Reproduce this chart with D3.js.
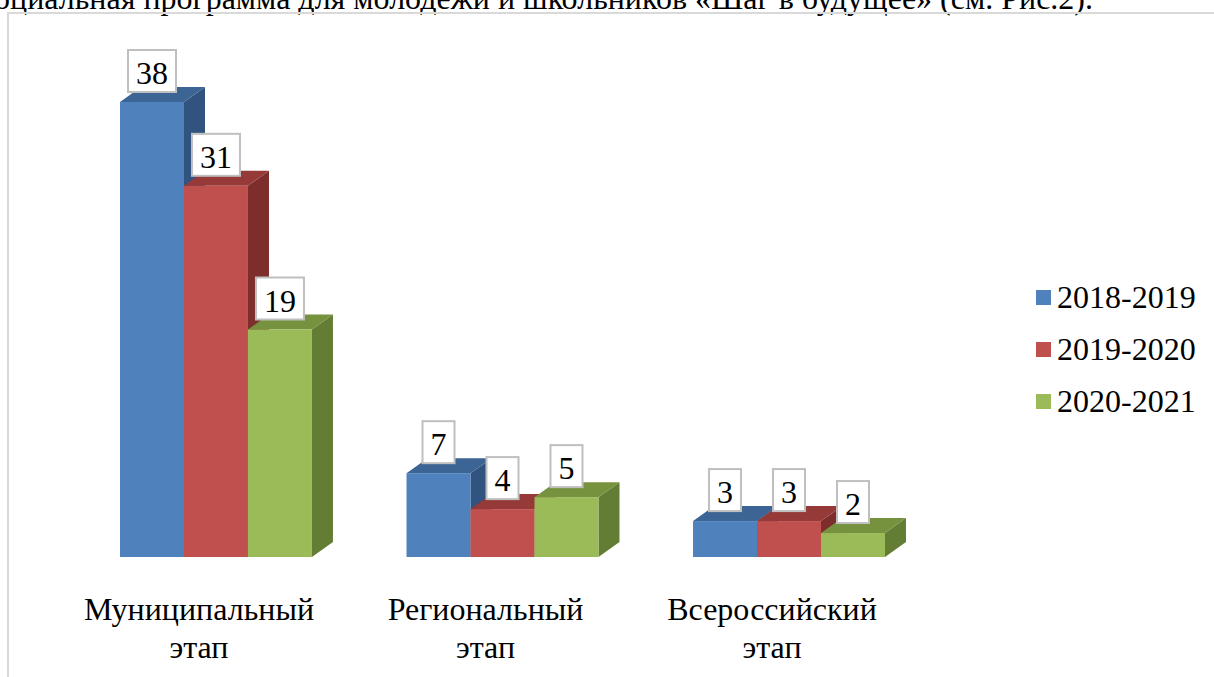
<!DOCTYPE html>
<html>
<head>
<meta charset="utf-8">
<script src="https://cdn.jsdelivr.net/npm/d3@7"></script>
</head>
<body style="margin:0;background:#fff">
<div id="chart"></div>
<script>
// data
const categories = ["Муниципальный этап", "Региональный этап", "Всероссийский этап"];
const seriesNames = ["2018-2019", "2019-2020", "2020-2021"];
const values2018 = [38, 7, 3];
const values2019 = [31, 4, 3];
const values2020 = [19, 5, 2];
const seriesValues = [values2018, values2019, values2020];

const W = 1214, H = 677;
const FONT = "'Liberation Serif', 'Times New Roman', serif";
const svg = d3.select("#chart").append("svg")
  .attr("width", W)
  .attr("height", H)
  .style("display", "block");

// colours: front, top, side
const front = ["#4f81bd", "#c0504d", "#9bbb59"];
const topC = ["#3c6596", "#953a38", "#77923f"];
const side = ["#315380", "#7d2e2c", "#647d34"];

// heading text from the page above the chart
svg.append("text")
  .attr("x", 1093)
  .attr("y", 9)
  .attr("text-anchor", "end")
  .style("font-family", FONT)
  .style("font-size", "32px")
  .attr("fill", "#000")
  .text("Социальная программа для молодежи и школьников «Шаг в будущее» (см. Рис.2).");

// chart frame
svg.append("path")
  .attr("d", `M8,${H} V13 H${W}`)
  .attr("fill", "none")
  .attr("stroke", "#d9d9d9")
  .attr("stroke-width", 2);

// scales
const x = d3.scaleBand()
  .domain(categories)
  .range([120, 885])
  .paddingInner(0.33)
  .paddingOuter(0);
const xs = d3.scaleBand()
  .domain(seriesNames)
  .range([0, x.bandwidth()]);
const y = d3.scaleLinear()
  .domain([0, 38])
  .range([557, 102]);

const dx = 21, dy = -15; // 3D depth

const rows = [];
categories.forEach((c, ci) => {
  seriesNames.forEach((s, si) => {
    rows.push({ cat: c, ser: s, si, v: seriesValues[si][ci] });
  });
});

const g = svg.append("g");
const bars = g.selectAll("g.bar")
  .data(rows)
  .join("g")
  .attr("class", "bar");

bars.each(function(d) {
  const el = d3.select(this);
  const x0 = x(d.cat) + xs(d.ser);
  const x1 = x0 + xs.bandwidth();
  const y0 = y(0);
  const y1 = y(d.v);
  // side face
  el.append("path")
    .attr("d", `M${x1},${y1} L${x1 + dx},${y1 + dy} L${x1 + dx},${y0 + dy} L${x1},${y0} Z`)
    .attr("fill", side[d.si]);
  // top face
  el.append("path")
    .attr("d", `M${x0},${y1} L${x0 + dx},${y1 + dy} L${x1 + dx},${y1 + dy} L${x1},${y1} Z`)
    .attr("fill", topC[d.si]);
  // front
  el.append("rect")
    .attr("x", x0)
    .attr("y", y1)
    .attr("width", x1 - x0)
    .attr("height", y0 - y1)
    .attr("fill", front[d.si]);
});

// value labels in boxes
const labels = g.selectAll("g.lbl")
  .data(rows)
  .join("g")
  .attr("class", "lbl");

labels.each(function(d) {
  const el = d3.select(this);
  const cx = x(d.cat) + xs(d.ser) + xs.bandwidth() / 2;
  const bw = String(d.v).length > 1 ? 48 : 32;
  const bh = 42;
  const by = y(d.v) - 10 - bh;
  el.append("rect")
    .attr("x", cx - bw / 2)
    .attr("y", by)
    .attr("width", bw)
    .attr("height", bh)
    .attr("fill", "#fff")
    .attr("stroke", "#bfbfbf")
    .attr("stroke-width", 2);
  el.append("text")
    .attr("x", cx)
    .attr("y", by + 34)
    .attr("text-anchor", "middle")
    .style("font-family", FONT)
    .style("font-size", "32px")
    .attr("fill", "#000")
    .text(d.v);
});

// category labels
const catG = svg.append("g");
categories.forEach(c => {
  const words = c.split(" ");
  const cx = x(c) + x.bandwidth() / 2 - 17;
  const t = catG.append("text")
    .attr("x", cx)
    .attr("y", 620)
    .attr("text-anchor", "middle")
    .style("font-family", FONT)
    .style("font-size", "32px")
    .attr("fill", "#000");
  words.forEach((w, i) => {
    t.append("tspan")
      .attr("x", cx)
      .attr("dy", i === 0 ? 0 : 38)
      .text(w);
  });
});

// legend
const legend = svg.append("g")
  .attr("transform", "translate(1036, 297)");
const items = legend.selectAll("g")
  .data(seriesNames)
  .join("g")
  .attr("transform", (d, i) => `translate(0, ${i * 52})`);
items.append("rect")
  .attr("x", 0)
  .attr("y", -7)
  .attr("width", 15)
  .attr("height", 15)
  .attr("fill", (d, i) => front[i]);
items.append("text")
  .attr("x", 21)
  .attr("y", 11)
  .style("font-family", FONT)
  .style("font-size", "32px")
  .attr("fill", "#000")
  .text(d => d);
</script>
</body>
</html>
